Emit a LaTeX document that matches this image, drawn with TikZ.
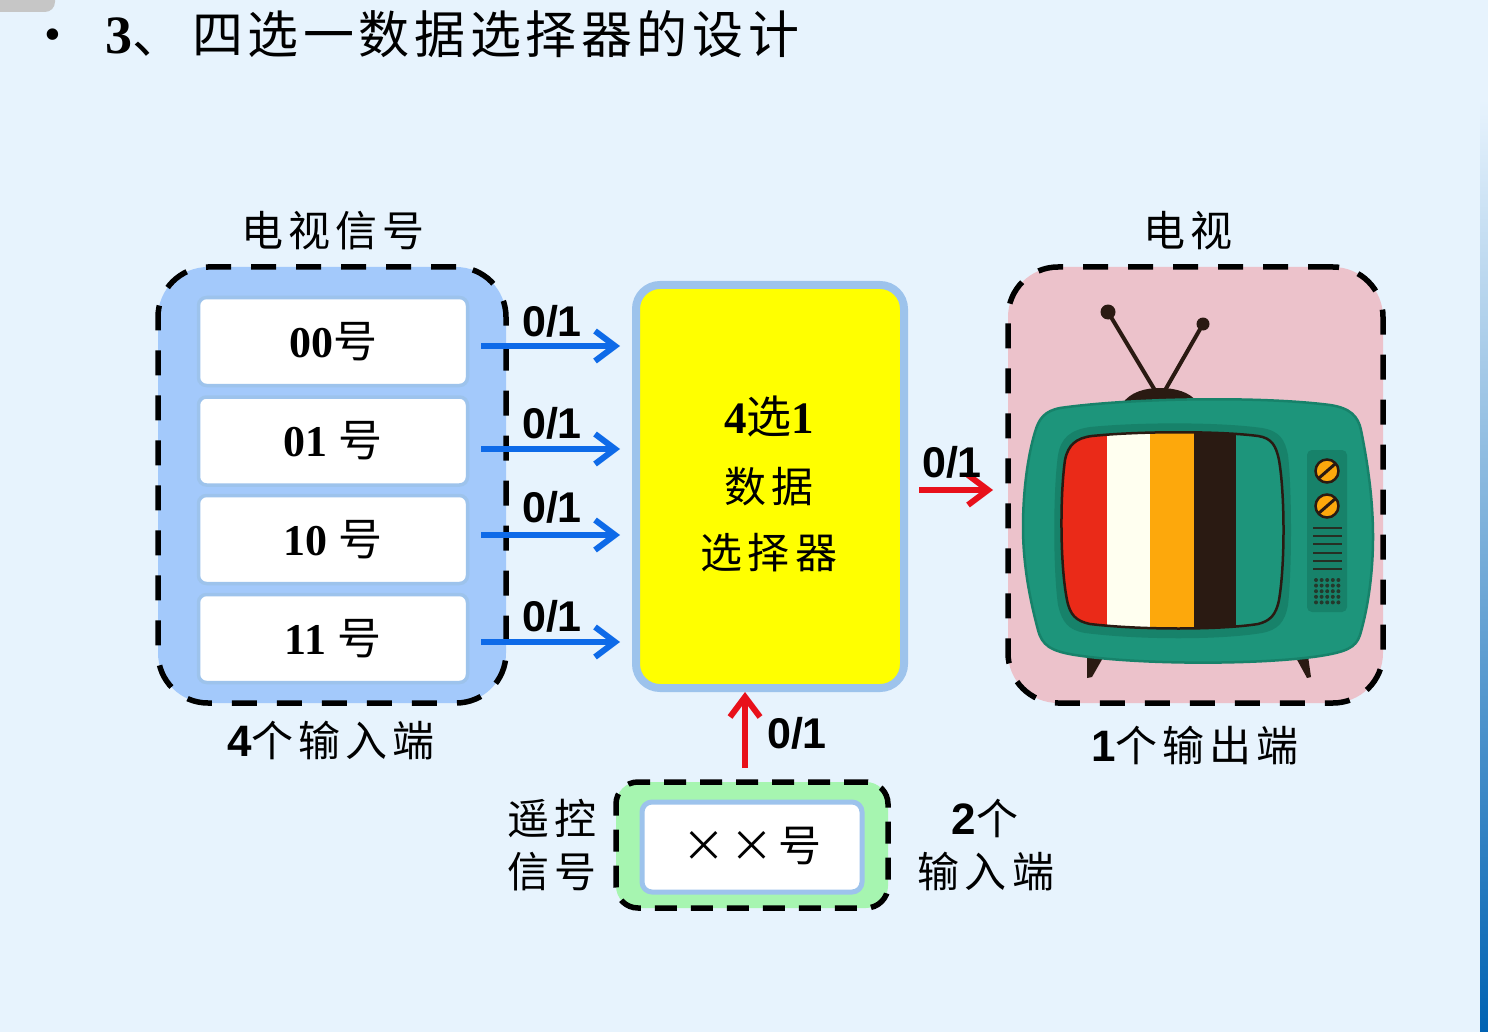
\documentclass[tikz,border=0pt]{standalone}
\usepackage{fontspec}
\setmainfont{Liberation Serif}
\setsansfont{Liberation Sans}
\newfontfamily\cjk{Noto Sans CJK SC}
\newfontfamily\cjks[LetterSpace=12]{Noto Sans CJK SC}
\newfontfamily\cjkt[LetterSpace=9]{Noto Sans CJK SC}
\newcommand\myfs[1]{\fontsize{#1}{#1}\selectfont}
\usetikzlibrary{arrows.meta}
\definecolor{pagebg}{HTML}{E7F3FD}
\definecolor{groupblue}{HTML}{A3C9FB}
\definecolor{grouppink}{HTML}{ECC2CB}
\definecolor{groupgreen}{HTML}{A6F5B0}
\definecolor{edgeblue}{HTML}{9DC3EC}
\definecolor{arrowblue}{HTML}{0E6AE8}
\definecolor{arrowred}{HTML}{E8101A}
\definecolor{pureyellow}{RGB}{255,255,0}
\definecolor{tvgreen}{HTML}{1D957B}
\definecolor{tvdark}{HTML}{17826A}
\definecolor{tvblack}{HTML}{2A1A12}
\definecolor{tvred}{HTML}{EA2A18}
\definecolor{tvwhite}{HTML}{FFFFF0}
\definecolor{tvorange}{HTML}{FDA80C}
\tikzset{
  x=1pt,y=-1pt,
  groupbox/.style={draw=black,line width=5.5pt,dash pattern=on 25pt off 20pt,rounded corners=50pt,inner sep=0pt,outer sep=0pt},
  itembox/.style={draw=edgeblue,fill=white,line width=3.5pt,rounded corners=8pt,minimum width=269pt,minimum height=88pt,inner sep=0pt,outer sep=0pt,font=\myfs{44}},
  selbox/.style={draw=edgeblue,fill=pureyellow,line width=8pt,rounded corners=24pt,minimum width=268pt,minimum height=403pt,inner sep=0pt,outer sep=0pt},
  bluearrow/.style={draw=arrowblue,line width=6pt,-{Straight Barb[length=20pt,width=30pt,line width=6pt]}},
  redarrow/.style={draw=arrowred,line width=6pt,-{Straight Barb[length=20pt,width=30pt,line width=6pt]}},
  bitlabel/.style={font=\sffamily\bfseries\myfs{43},inner sep=0pt},
  caption/.style={font=\cjks\myfs{42},inner sep=0pt},
  sellabel/.style={font=\cjks\myfs{42},inner sep=0pt},
}
\begin{document}
\begin{tikzpicture}
\useasboundingbox (0,0) rectangle (1488,1032);
\fill[pagebg] (0,0) rectangle (1488,1032);
\shade[top color=pagebg,bottom color=blue!45!cyan!70!black] (1480,100) rectangle (1488,1032);
\fill[gray!45,rounded corners=10pt] (-20,-20) rectangle (55,12);

% title
\node[inner sep=0pt,font=\myfs{48}] (bullet) at (53,40) {•};
\node[anchor=west,inner sep=0pt,font=\myfs{54}] (title) at (105,34) {\textbf{3}{\cjkt\myfs{51}、\hspace{9pt}四选一数据选择器的设计}};

% input group
\node[groupbox,fill=groupblue,minimum width=348pt,minimum height=436pt] (inputs) at (332,485) {};
\node[itembox] (s00) at (333,341.5) {\raisebox{4pt}{\textbf{00}{\cjk 号}}};
\node[itembox] (s01) at (333,441) {\raisebox{5pt}{\textbf{01} {\cjk 号}}};
\node[itembox] (s10) at (333,539.5) {\raisebox{4pt}{\textbf{10} {\cjk 号}}};
\node[itembox] (s11) at (333,638.5) {\raisebox{4pt}{\textbf{11} {\cjk 号}}};

% selector
\node[selbox] (sel) at (770,486.5) {};
\node[font=\myfs{45},inner sep=0pt] (seltxtA) at (769,416) {\textbf{4}{\cjk 选}\textbf{1}};
\node[sellabel] (seltxtB) at (769,487) {数据};
\node[sellabel] (seltxtC) at (769,553) {选择器};

% tv group
\node[groupbox,fill=grouppink,minimum width=375pt,minimum height=436pt] (tv) at (1195.5,485) {};

% tv picture
\draw[tvblack,line width=4pt] (1108,312) -- (1156,392);
\draw[tvblack,line width=4pt] (1203,324) -- (1164,392);
\fill[tvblack] (1108,312) circle (7.5);
\fill[tvblack] (1203,324) circle (6.5);
\fill[tvblack] (1122,404) .. controls (1130,392) and (1145,388) .. (1160,388) .. controls (1175,388) and (1190,392) .. (1197,402) -- cycle;
\fill[tvblack] (1087,656) -- (1104,656) -- (1092,677) -- (1087,678) -- cycle;
\fill[tvblack] (1295,656) -- (1308,656) -- (1311,677) -- (1307,678) -- cycle;
\def\tvbody{(1060,408) .. controls (1130,398) and (1260,396) .. (1330,405)
  .. controls (1350,408) and (1358,416) .. (1361,430)
  .. controls (1368,465) and (1373,500) .. (1373,537)
  .. controls (1373,580) and (1366,615) .. (1360,635)
  .. controls (1356,648) and (1345,652) .. (1320,656)
  .. controls (1260,665) and (1140,665) .. (1075,655)
  .. controls (1050,651) and (1042,645) .. (1038,630)
  .. controls (1030,600) and (1023,565) .. (1023,527)
  .. controls (1023,490) and (1028,455) .. (1035,432)
  .. controls (1039,418) and (1045,411) .. (1060,408) -- cycle}
\draw[tvdark,fill=tvgreen,line width=2.5pt] \tvbody;
\def\tvpanel{(1090,427) .. controls (1140,422) and (1220,422) .. (1262,428)
  .. controls (1280,431) and (1285,440) .. (1288,455)
  .. controls (1292,490) and (1292,570) .. (1288,605)
  .. controls (1285,622) and (1278,630) .. (1262,633)
  .. controls (1220,640) and (1140,640) .. (1085,633)
  .. controls (1068,630) and (1062,622) .. (1058,605)
  .. controls (1053,570) and (1053,490) .. (1058,455)
  .. controls (1061,438) and (1070,430) .. (1090,427) -- cycle}
\fill[tvdark] \tvpanel;
\def\tvscreen{(1092,436) .. controls (1140,431) and (1220,431) .. (1258,436)
  .. controls (1272,438) and (1276,446) .. (1279,460)
  .. controls (1285,495) and (1285,565) .. (1279,600)
  .. controls (1276,615) and (1270,621) .. (1258,624)
  .. controls (1220,630) and (1140,630) .. (1090,624)
  .. controls (1076,621) and (1070,615) .. (1067,600)
  .. controls (1060,565) and (1060,495) .. (1065,460)
  .. controls (1068,445) and (1076,438) .. (1092,436) -- cycle}
\begin{scope}
\clip \tvscreen;
\fill[tvred] (1055,425) rectangle (1107,640);
\fill[tvwhite] (1107,425) rectangle (1150,640);
\fill[tvorange] (1150,425) rectangle (1194,640);
\fill[tvblack] (1194,425) rectangle (1236,640);
\fill[tvgreen] (1236,425) rectangle (1290,640);
\end{scope}
\draw[tvblack,line width=2.5pt] \tvscreen;
\fill[tvdark,rounded corners=5pt] (1307,450) rectangle (1347,612);
\foreach \ky in {471,506}{
  \draw[tvblack,fill=tvorange,line width=2.5pt] (1327,\ky) circle (11.5);
  \draw[tvblack,line width=3pt] (1319,\ky+7) -- (1335,\ky-7);
}
\foreach \ly in {528,536,544,553,561,569}{
  \draw[tvblack!80!tvdark,line width=2.4pt] (1313,\ly) -- (1342,\ly);
}
\foreach \dx in {0,1,2,3,4}{
  \foreach \dy in {0,1,2,3,4}{
    \fill[tvblack!70!tvdark] (1316+\dx*5.6,580+\dy*5.6) circle (2);
  }
}

% control group
\node[groupbox,fill=groupgreen,minimum width=272pt,minimum height=126pt,rounded corners=22pt,dash pattern=on 22pt off 14pt] (ctrl) at (752,845) {};
\node[draw=edgeblue,fill=white,line width=5pt,rounded corners=10pt,minimum width=220pt,minimum height=90pt,inner sep=0pt,outer sep=0pt,font=\cjks\myfs{43}] (code) at (752,847) {\raisebox{6pt}{××号}};

% connectors
\coordinate (a0) at (481,346);
\coordinate (a1) at (481,449);
\coordinate (a2) at (481,535);
\coordinate (a3) at (481,642);
\coordinate (rs) at (919,490);
\coordinate (ru) at (745,768);
\foreach \c in {a0,a1,a2,a3}{
  \draw[bluearrow,shorten >=16pt] (\c) -- (\c -| sel.west);
}
\draw[redarrow,shorten >=15pt] (rs) -- (rs -| tv.west);
\draw[redarrow,shorten >=4pt] (ru) -- (ru |- sel.south);

% bit labels
\node[bitlabel] (b0) at (552,321) {0/1};
\node[bitlabel] (b1) at (552,423) {0/1};
\node[bitlabel] (b2) at (552,507) {0/1};
\node[bitlabel] (b3) at (552,616) {0/1};
\node[bitlabel] (b4) at (952,462) {0/1};
\node[bitlabel] (b5) at (797,733) {0/1};

% captions
\node[caption] (capA) at (333,231) {电视信号};
\node[caption] (capB) at (1188,231) {电视};
\node[inner sep=0pt] (capC) at (331,741) {\sffamily\bfseries\myfs{44}4{\cjks\mdseries\myfs{42}个输入端}};
\node[inner sep=0pt] (capD) at (1195,746) {\sffamily\bfseries\myfs{44}1{\cjks\mdseries\myfs{42}个输出端}};
\node[caption] (capE) at (552,818) {遥控};
\node[caption] (capF) at (552,872) {信号};
\node[inner sep=0pt] (capG) at (985,818) {\sffamily\bfseries\myfs{44}2{\cjks\mdseries\myfs{42}个}};
\node[caption] (capH) at (986,872) {输入端};
\end{tikzpicture}
\end{document}
